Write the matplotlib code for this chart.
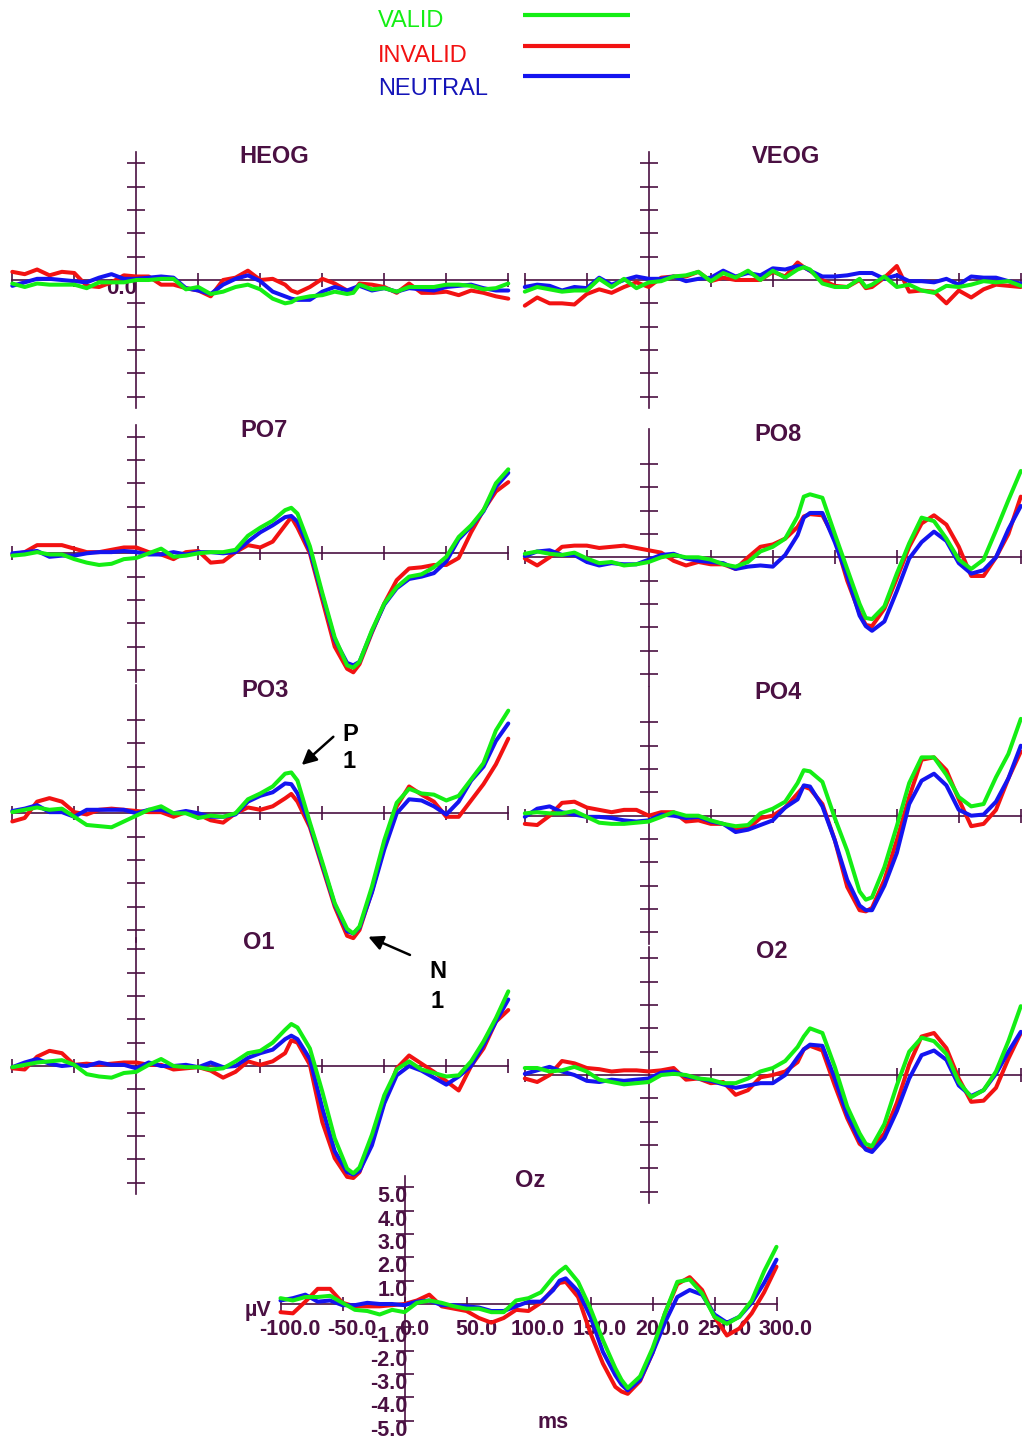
import matplotlib
matplotlib.use("Agg")
import matplotlib.pyplot as plt
from matplotlib.lines import Line2D
from matplotlib.transforms import ScaledTranslation

# sample times (ms) and waveforms (uV)
times = list(range(-100, 121, 10)) + [125, 130, 140, 150, 160, 170, 175] + list(range(180, 301, 10))

heog_invalid = [0.35, 0.25, 0.45, 0.2, 0.35, 0.3, -0.25, -0.3, -0.1, 0.2,
                0.15, 0.15, -0.2, -0.2, -0.35, -0.45, -0.7, 0.0, 0.1, 0.4,
                0.0, 0.05, -0.2, -0.45, -0.55, -0.3, 0.05, -0.15, -0.45, -0.5, -0.15,
                -0.2, -0.3, -0.55, -0.15, -0.55, -0.55, -0.5, -0.65, -0.45, -0.55, -0.7, -0.8]
heog_neutral = [-0.25, -0.1, 0.05, 0.05, 0.0, -0.05, -0.1, 0.1, 0.25, 0.05,
                0.05, 0.1, 0.15, 0.1, -0.35, -0.45, -0.6, -0.2, 0.05, 0.2,
                -0.05, -0.5, -0.7, -0.8, -0.85, -0.85, -0.5, -0.3, -0.45, -0.35, -0.25,
                -0.45, -0.35, -0.5, -0.35, -0.4, -0.45, -0.3, -0.25, -0.2, -0.35, -0.45, -0.45]
heog_valid = [-0.15, -0.3, -0.15, -0.2, -0.2, -0.2, -0.35, -0.1, -0.1, -0.1,
              0.0, 0.0, 0.05, 0.05, -0.4, -0.3, -0.6, -0.5, -0.3, -0.2,
              -0.4, -0.8, -1.0, -0.95, -0.8, -0.7, -0.65, -0.5, -0.6, -0.55, -0.2,
              -0.4, -0.35, -0.5, -0.3, -0.3, -0.3, -0.2, -0.2, -0.25, -0.4, -0.35, -0.15]

veog_invalid = [-1.1, -0.75, -1.0, -1.0, -1.05, -0.6, -0.4, -0.55, -0.3, -0.1,
                -0.3, 0.1, 0.15, 0.15, 0.35, -0.05, 0.1, 0.0, 0.0, 0.0,
                0.35, 0.15, 0.75, 0.55, 0.4, 0.0, -0.25, -0.3, 0.0, -0.35, -0.3,
                0.1, 0.6, -0.5, -0.45, -0.5, -1.0, -0.45, -0.75, -0.4, -0.2, -0.25, -0.3]
veog_neutral = [-0.3, -0.2, -0.25, -0.45, -0.3, -0.35, 0.1, -0.2, 0.0, 0.15,
                0.05, 0.05, 0.15, -0.05, 0.05, 0.1, 0.4, 0.15, 0.3, 0.2,
                0.5, 0.45, 0.6, 0.55, 0.4, 0.15, 0.15, 0.2, 0.3, 0.3, 0.3,
                0.05, 0.2, -0.05, -0.05, -0.1, 0.05, -0.2, 0.15, 0.1, 0.1, -0.05, -0.15]
veog_valid = [-0.5, -0.3, -0.4, -0.5, -0.45, -0.45, 0.05, -0.3, 0.05, -0.35,
              -0.1, -0.05, 0.15, 0.2, 0.35, -0.05, 0.3, 0.1, 0.4, 0.0,
              0.4, 0.1, 0.45, 0.55, 0.45, -0.15, -0.3, -0.3, 0.05, -0.3, -0.2,
              0.15, -0.3, -0.2, -0.45, -0.55, -0.25, -0.3, -0.2, -0.05, -0.1, -0.05, -0.25]

po7_invalid = [-0.05, 0.05, 0.35, 0.35, 0.35, 0.2, 0.05, 0.05, 0.15, 0.25,
               0.25, 0.05, -0.05, -0.25, 0.05, 0.1, -0.4, -0.35, 0.05, 0.35,
               0.25, 0.5, 1.2, 1.55, 1.1, 0.0, -2.0, -4.0, -4.95, -5.1, -4.75,
               -3.4, -2.15, -1.15, -0.65, -0.6, -0.5, -0.5, -0.2, 0.9, 1.85, 2.65, 3.05]
po7_neutral = [0.0, 0.05, 0.1, -0.15, -0.1, -0.1, 0.0, 0.05, 0.05, 0.1,
               0.05, -0.05, -0.05, 0.05, -0.05, 0.05, 0.05, 0.0, 0.05, 0.5,
               0.9, 1.2, 1.55, 1.6, 1.35, 0.1, -1.8, -3.7, -4.7, -4.8, -4.65,
               -3.35, -2.2, -1.5, -1.1, -1.0, -0.85, -0.35, 0.6, 1.15, 1.8, 2.85, 3.45]
po7_valid = [-0.1, -0.05, 0.05, -0.05, -0.05, -0.25, -0.4, -0.5, -0.45, -0.25,
             -0.2, 0.0, 0.2, -0.15, -0.1, 0.0, 0.05, 0.05, 0.15, 0.75,
             1.1, 1.4, 1.85, 1.95, 1.7, 0.3, -1.7, -3.6, -4.8, -4.9, -4.65,
             -3.3, -2.15, -1.45, -1.0, -0.9, -0.6, -0.15, 0.7, 1.2, 1.85, 3.0, 3.6]

po8_invalid = [-0.05, -0.35, 0.0, 0.45, 0.5, 0.5, 0.4, 0.45, 0.5, 0.4,
               0.3, 0.2, -0.15, -0.35, -0.2, -0.3, -0.3, -0.5, 0.0, 0.45,
               0.55, 0.8, 1.3, 1.75, 1.85, 1.8, 0.8, -1.0, -2.4, -2.9, -2.95,
               -2.2, -0.9, 0.45, 1.45, 1.8, 1.4, 0.45, -0.8, -0.8, 0.0, 1.0, 2.6]
po8_neutral = [0.05, 0.25, 0.3, 0.1, 0.1, -0.2, -0.35, -0.25, -0.3, -0.3,
               -0.1, 0.1, 0.15, -0.05, -0.15, -0.2, -0.25, -0.5, -0.4, -0.35,
               -0.4, 0.1, 0.95, 1.7, 1.9, 1.9, 0.65, -0.8, -2.5, -2.95, -3.15,
               -2.75, -1.45, -0.05, 0.65, 1.1, 0.7, -0.25, -0.7, -0.55, 0.0, 1.2, 2.2]
po8_valid = [0.15, 0.25, 0.15, 0.1, 0.2, -0.05, -0.25, -0.2, -0.35, -0.3,
             -0.2, 0.0, 0.1, 0.0, 0.0, -0.1, -0.3, -0.4, -0.2, 0.25,
             0.45, 0.8, 1.75, 2.6, 2.7, 2.55, 1.0, -0.5, -2.0, -2.6, -2.65,
             -2.1, -0.7, 0.6, 1.7, 1.55, 0.8, -0.1, -0.5, -0.1, 1.15, 2.45, 3.7]

po3_invalid = [-0.35, -0.2, 0.5, 0.65, 0.5, 0.05, -0.05, 0.15, 0.2, 0.15,
               0.1, 0.05, 0.05, -0.15, 0.05, -0.05, -0.3, -0.4, 0.0, 0.25,
               0.15, 0.3, 0.64, 0.83, 0.5, -0.6, -2.3, -4.0, -5.25, -5.35, -5.0,
               -3.35, -1.35, 0.3, 1.15, 0.8, 0.5, -0.15, -0.15, 0.55, 1.25, 2.1, 3.2]
po3_neutral = [0.1, 0.2, 0.35, 0.05, 0.05, -0.15, 0.15, 0.15, 0.15, 0.15,
               0.0, 0.15, 0.15, 0.0, 0.1, 0.0, -0.15, -0.15, -0.05, 0.5,
               0.75, 0.9, 1.28, 1.25, 0.85, -0.5, -2.2, -3.9, -5.05, -5.15, -4.9,
               -3.4, -1.55, 0.0, 0.6, 0.55, 0.3, -0.05, 0.5, 1.4, 2.0, 3.1, 3.85]
po3_valid = [0.05, 0.15, 0.25, 0.15, 0.2, -0.15, -0.5, -0.55, -0.6, -0.35,
             -0.1, 0.15, 0.3, 0.0, 0.0, -0.2, -0.1, -0.15, 0.0, 0.6,
             0.85, 1.15, 1.7, 1.75, 1.4, -0.4, -2.1, -3.85, -4.95, -5.15, -4.85,
             -3.15, -1.15, 0.45, 1.05, 0.85, 0.8, 0.55, 0.75, 1.45, 2.15, 3.55, 4.4]

po4_invalid = [-0.35, -0.4, 0.0, 0.55, 0.6, 0.35, 0.25, 0.15, 0.25, 0.25,
               0.0, 0.15, 0.15, -0.25, -0.2, -0.35, -0.35, -0.55, -0.55, -0.1,
               0.0, 0.35, 0.95, 1.25, 1.15, 0.5, -1.05, -3.05, -4.05, -4.1, -3.95,
               -2.75, -1.05, 0.8, 2.4, 2.5, 1.95, 0.7, -0.45, -0.35, 0.25, 1.6, 2.75]
po4_neutral = [-0.05, 0.3, 0.4, 0.15, 0.05, -0.05, -0.05, -0.1, -0.2, -0.25,
               -0.2, 0.05, 0.0, -0.1, -0.05, -0.25, -0.35, -0.7, -0.6, -0.4,
               -0.2, 0.35, 0.7, 1.3, 1.25, 0.4, -1.05, -2.75, -3.85, -4.05, -4.05,
               -3.0, -1.6, 0.5, 1.5, 1.8, 1.3, 0.25, 0.0, 0.05, 0.6, 1.6, 3.0]
po4_valid = [0.1, 0.15, 0.1, 0.1, 0.2, -0.05, -0.3, -0.35, -0.35, -0.3,
             -0.25, -0.05, 0.15, 0.0, 0.0, -0.2, -0.35, -0.45, -0.4, 0.1,
             0.3, 0.6, 1.4, 1.95, 1.9, 1.45, -0.1, -1.5, -3.25, -3.6, -3.5,
             -2.2, -0.45, 1.4, 2.5, 2.5, 1.75, 0.8, 0.4, 0.5, 1.65, 2.65, 4.15]

o1_invalid = [-0.1, -0.15, 0.4, 0.65, 0.55, 0.05, 0.1, 0.05, 0.1, 0.15,
              0.15, 0.05, 0.05, -0.15, -0.1, -0.05, -0.2, -0.5, -0.25, 0.2,
              0.05, 0.2, 0.55, 1.1, 1.0, 0.05, -2.4, -3.95, -4.75, -4.8, -4.55,
              -3.1, -1.55, -0.1, 0.45, 0.1, -0.25, -0.65, -1.05, 0.0, 0.75, 1.9, 2.4]
o1_neutral = [-0.05, 0.15, 0.3, 0.1, 0.0, 0.05, 0.0, 0.15, 0.05, 0.05,
              -0.1, 0.15, 0.0, 0.0, 0.05, -0.05, 0.15, -0.05, 0.0, 0.35,
              0.55, 0.7, 1.15, 1.3, 1.15, 0.3, -1.8, -3.65, -4.55, -4.65, -4.5,
              -3.4, -1.6, -0.4, 0.0, -0.2, -0.5, -0.8, -0.45, 0.0, 0.9, 1.9, 2.85]
o1_valid = [-0.05, 0.05, 0.15, 0.2, 0.25, 0.05, -0.35, -0.45, -0.5, -0.3,
            -0.25, 0.05, 0.3, 0.0, -0.05, -0.05, -0.15, -0.1, 0.2, 0.55,
            0.65, 1.0, 1.55, 1.8, 1.65, 0.75, -1.1, -3.1, -4.4, -4.6, -4.35,
            -2.95, -1.25, -0.15, 0.2, -0.15, -0.3, -0.45, -0.4, 0.2, 1.05, 2.05, 3.2]

o2_invalid = [-0.15, -0.3, 0.0, 0.6, 0.5, 0.3, 0.25, 0.15, 0.2, 0.2,
              0.15, 0.2, 0.3, -0.2, -0.15, -0.35, -0.3, -0.85, -0.65, -0.1,
              0.0, 0.15, 0.55, 1.1, 1.25, 1.05, -0.45, -1.85, -2.95, -3.15, -3.15,
              -2.5, -1.2, 0.45, 1.65, 1.8, 1.15, -0.15, -1.15, -1.1, -0.55, 0.7, 1.8]
o2_neutral = [0.05, 0.2, 0.35, 0.15, 0.0, -0.25, -0.3, -0.2, -0.25, -0.2,
              -0.15, 0.1, 0.15, -0.05, -0.15, -0.25, -0.4, -0.55, -0.45, -0.35,
              -0.35, 0.0, 0.75, 1.1, 1.3, 1.25, -0.15, -1.7, -2.8, -3.2, -3.3,
              -2.7, -1.55, -0.15, 0.85, 1.05, 0.65, -0.45, -0.9, -0.65, 0.05, 1.0, 1.85]
o2_valid = [0.3, 0.3, 0.15, 0.2, 0.35, 0.15, -0.2, -0.3, -0.4, -0.35,
            -0.3, 0.0, 0.05, 0.0, -0.15, -0.2, -0.35, -0.35, -0.15, 0.15,
            0.3, 0.6, 1.2, 1.65, 2.0, 1.8, 0.35, -1.35, -2.5, -2.95, -3.05,
            -2.1, -0.45, 1.0, 1.6, 1.45, 0.9, -0.3, -0.95, -0.65, 0.15, 1.45, 2.95]

oz_invalid = [-0.35, -0.4, 0.1, 0.65, 0.65, 0.05, -0.1, -0.1, -0.1, -0.05,
              0.0, 0.15, 0.4, -0.1, -0.2, -0.3, -0.6, -0.8, -0.6, -0.25,
              -0.3, 0.05, 0.65, 0.9, 0.95, 0.3, -1.25, -2.55, -3.55, -3.75, -3.85,
              -3.3, -2.1, -0.4, 0.85, 1.15, 0.6, -0.55, -1.35, -1.05, -0.4, 0.5, 1.6]
oz_neutral = [0.15, 0.25, 0.4, 0.1, 0.15, -0.05, -0.05, 0.05, 0.0, 0.0,
              -0.05, 0.1, 0.15, -0.05, -0.05, -0.1, -0.15, -0.3, -0.3, -0.1,
              0.1, 0.1, 0.6, 1.0, 1.1, 0.55, -0.55, -2.05, -3.05, -3.45, -3.7,
              -3.25, -2.1, -0.8, 0.3, 0.6, 0.4, -0.45, -0.8, -0.55, 0.05, 0.9, 1.9]
oz_valid = [0.25, 0.15, 0.3, 0.3, 0.35, 0.05, -0.25, -0.3, -0.45, -0.25,
            -0.35, 0.05, 0.15, 0.05, -0.1, -0.2, -0.2, -0.35, -0.35, 0.15,
            0.25, 0.5, 1.15, 1.4, 1.6, 0.95, -0.2, -1.55, -2.75, -3.25, -3.6,
            -3.1, -1.9, -0.4, 0.95, 1.05, 0.45, -0.55, -0.85, -0.55, 0.15, 1.4, 2.45]

plt.rcParams['font.family'] = ['Liberation Sans', 'DejaVu Sans']

W, H = 1022, 1437
PX_MS = 1.24          # pixels per ms
PX_UV = 70 / 3        # pixels per microvolt
AXC = '#4a1042'
GREEN, RED, BLUE = '#14ee14', '#f21212', '#1414f0'

fig = plt.figure(figsize=(W / 100, H / 100), dpi=100)
fig.patch.set_facecolor('white')


def panel(name, x0, zero_y, valid, invalid, neutral, title_t, skip_top=False, labels=False):
    ax = fig.add_axes([(x0 - 100 * PX_MS) / W, (H - zero_y - 5.5 * PX_UV) / H,
                       400 * PX_MS / W, 11 * PX_UV / H])
    ax.patch.set_visible(False)
    ax.set_xlim(-100, 300)
    ax.set_ylim(-5.5, 5.5)
    ax.spines['top'].set_visible(False)
    ax.spines['right'].set_visible(False)
    ax.spines['left'].set_position(('data', 0))
    ax.spines['bottom'].set_position(('data', 0))
    for s in ('left', 'bottom'):
        ax.spines[s].set_color(AXC)
        ax.spines[s].set_linewidth(1.2)
    yt = [-5, -4, -3, -2, -1, 1, 2, 3, 4] + ([] if skip_top else [5])
    ax.set_yticks(yt)
    if labels:
        xt = [-100, -50, 0, 50, 100, 150, 200, 250, 300]
    else:
        xt = [-100, -50, 50, 100, 150, 200, 250, 300]
    ax.set_xticks(xt)
    ax.tick_params(axis='x', direction='inout', length=9.5, width=1.2, color=AXC,
                   labelcolor=AXC, pad=6.3)
    ax.tick_params(axis='y', direction='inout', length=13, width=1.2, color=AXC,
                   labelcolor=AXC, pad=-8.8)
    if labels:
        ax.set_xticklabels([f'{v:.1f}' for v in xt], fontsize=15.5, fontweight='bold')
        ax.set_yticklabels([f'{v:.1f}' for v in yt], fontsize=15.5, fontweight='bold')
        for lab in ax.get_xticklabels():
            lab.set_transform(lab.get_transform() + ScaledTranslation(0.095, 0, fig.dpi_scale_trans))
        for lab in ax.get_yticklabels():
            lab.set_transform(lab.get_transform() + ScaledTranslation(0, -0.07, fig.dpi_scale_trans))
    else:
        ax.set_xticklabels([])
        ax.set_yticklabels([])
    for vals, col in ((invalid, RED), (neutral, BLUE), (valid, GREEN)):
        ax.plot(times, vals, color=col, lw=2.9, zorder=3, clip_on=False,
                solid_joinstyle='round', solid_capstyle='round')
    ax.text(title_t, 5.0, name, ha='center', va='baseline', fontsize=17,
            fontweight='bold', color=AXC, clip_on=False)
    return ax


LX, RX = 136.3, 648.8
ax_heog = panel('HEOG', LX, 280, heog_valid, heog_invalid, heog_neutral, 111)
panel('VEOG', RX, 280, veog_valid, veog_invalid, veog_neutral, 110.5)
panel('PO7', LX, 553.3, po7_valid, po7_invalid, po7_neutral, 103)
panel('PO8', RX, 557.3, po8_valid, po8_invalid, po8_neutral, 104.4, skip_top=True)
ax_po3 = panel('PO3', LX, 813.3, po3_valid, po3_invalid, po3_neutral, 103.8, skip_top=True)
panel('PO4', RX, 815.7, po4_valid, po4_invalid, po4_neutral, 104.4, skip_top=True)
panel('O1', LX, 1066, o1_valid, o1_invalid, o1_neutral, 99)
panel('O2', RX, 1075, o2_valid, o2_invalid, o2_neutral, 99)
ax_oz = panel('Oz', 404.5, 1304, oz_valid, oz_invalid, oz_neutral, 101.4, labels=True)

ax_heog.text(0.5, -0.37, '0.0', ha='right', va='center', fontsize=16,
             fontweight='bold', color=AXC, zorder=1)
ax_oz.text(-128.8, -0.51, 'µV', ha='left', va='baseline', fontsize=15.5,
           fontweight='bold', color=AXC, clip_on=False)
ax_oz.text(119.8, -5.33, 'ms', ha='center', va='baseline', fontsize=15.5,
           fontweight='bold', color=AXC, clip_on=False)

# P1 / N1 labels
arrow = dict(arrowstyle='-|>', color='black', lw=1.8, mutation_scale=22, shrinkA=0, shrinkB=0)
ax_po3.annotate('', xy=(133.4, 2.07), xytext=(158.9, 3.28), arrowprops=arrow, annotation_clip=False)
ax_po3.annotate('', xy=(187.1, -5.29), xytext=(220.7, -6.07), arrowprops=arrow, annotation_clip=False)
for t, v, s in ((172.3, 3.5, 'P'), (171.5, 2.33, '1'), (243.5, -6.68, 'N'), (242.3, -7.95, '1')):
    ax_po3.text(t, v, s, ha='center', va='center_baseline', fontsize=17,
                fontweight='bold', color='black', clip_on=False)

# legend
for label, tcol, lcol, base_y, line_y in (('VALID', GREEN, GREEN, 26.7, 15),
                                          ('INVALID', RED, RED, 61.7, 45.7),
                                          ('NEUTRAL', '#1414b8', BLUE, 95, 75.7)):
    fig.text(378.3 / W, 1 - base_y / H, label, color=tcol, fontsize=17, va='baseline', ha='left')
    fig.add_artist(Line2D([523.3 / W, 630 / W], [1 - line_y / H, 1 - line_y / H],
                          color=lcol, lw=3, solid_capstyle='butt'))

fig.savefig('out.png', dpi=100)
